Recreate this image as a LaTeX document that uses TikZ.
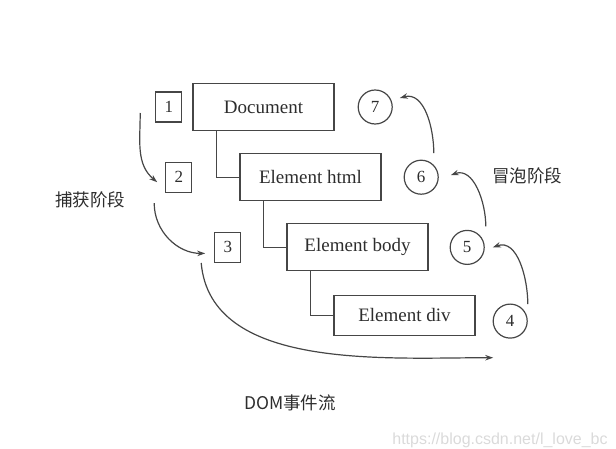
\documentclass[tikz,border=0pt]{standalone}
\usepackage{xcolor}
\usepackage{fontspec}
\setmainfont{Liberation Serif}
\newfontfamily\cjk{Noto Sans CJK SC}
\newfontfamily\wmfont{Liberation Sans}
\usepackage{tikz}
\usetikzlibrary{arrows.meta,positioning}
\definecolor{linegray}{RGB}{70,70,70}
\definecolor{textgray}{RGB}{45,45,45}
\definecolor{markgray}{RGB}{218,218,218}

\begin{document}
\begin{tikzpicture}[
    x=1pt, y=-1pt,
    node distance=22pt,
    box/.style={rectangle, draw=linegray, line width=1.2pt, minimum width=141pt, minimum height=47pt, text=textgray, font=\fontsize{19}{21}\selectfont},
    sq/.style={rectangle, draw=linegray, line width=1.2pt, minimum width=26pt, minimum height=30pt, inner sep=0pt, text=textgray, font=\fontsize{17}{19}\selectfont},
    circ/.style={circle, draw=linegray, line width=1.2pt, minimum size=34pt, inner sep=0pt, text=textgray, font=\fontsize{17}{19}\selectfont},
    link/.style={draw=linegray, line width=1.2pt},
    arrow/.style={->, >={Stealth[length=8pt,width=5.5pt]}, draw=linegray, line width=1.2pt},
    label/.style={text=textgray, font=\cjk\fontsize{17.5}{19}\selectfont}
]
    \useasboundingbox (0,0) rectangle (616,449);

    % element tree
    \node[box] (doc) at (263.5,107) {Document};
    \node[box, below=22pt of doc, xshift=47pt] (html) {Element html};
    \node[box, below=22pt of html, xshift=47pt] (body) {Element body};
    \node[box, below=23pt of body, xshift=47pt, minimum height=40pt] (dv) {Element div};

    \draw[link] ([xshift=24pt]doc.south west) |- (html.west);
    \draw[link] ([xshift=24pt]html.south west) |- (body.west);
    \draw[link] ([xshift=24pt]body.south west) |- (dv.west);

    % capture steps
    \node[sq, left=10pt of doc] (s1) {1};
    \node[sq, left=47pt of html] (s2) {2};
    \node[sq, left=45pt of body] (s3) {3};

    % bubble steps
    \node[circ, right=17pt of dv, yshift=-6pt] (c4) {4};
    \node[circ, right=21pt of body] (c5) {5};
    \node[circ, right=22pt of html] (c6) {6};
    \node[circ, right=23pt of doc] (c7) {7};

    \draw[arrow] ([xshift=-15pt,yshift=-6pt]s1.west) to[out=-90, in=140] ([xshift=-8pt,yshift=-5pt]s2.west);
    \draw[arrow] ([xshift=-11pt,yshift=-26pt]s2.west) to[out=-90, in=180] ([xshift=-9pt,yshift=-6pt]s3.west);
    \draw[arrow] ([xshift=-13pt]s3.south west) to[out=-85, in=180, looseness=0.9] ([xshift=-17pt,yshift=-19pt]c4.south);
    \draw[arrow] ([yshift=17pt]c4.east) to[out=90, in=20] ([xshift=8pt]c5.east);
    \draw[arrow] ([xshift=1pt,yshift=21pt]c5.east) to[out=90, in=20] ([xshift=12pt,yshift=2pt]c6.east);
    \draw[arrow] ([xshift=-5pt,yshift=24pt]c6.east) to[out=90, in=15] ([xshift=7pt,yshift=9pt]c7.east);

    \node[label] (cap) at (90,200) {捕获阶段};
    \node[label] (bub) at (527,176) {冒泡阶段};
    \node[label] (title) at (290,403) {DOM事件流};
    \node[text=markgray, font=\wmfont\fontsize{16}{18}\selectfont] (mark) at (500,440) {https://blog.csdn.net/l\_love\_bc};
\end{tikzpicture}
\end{document}
